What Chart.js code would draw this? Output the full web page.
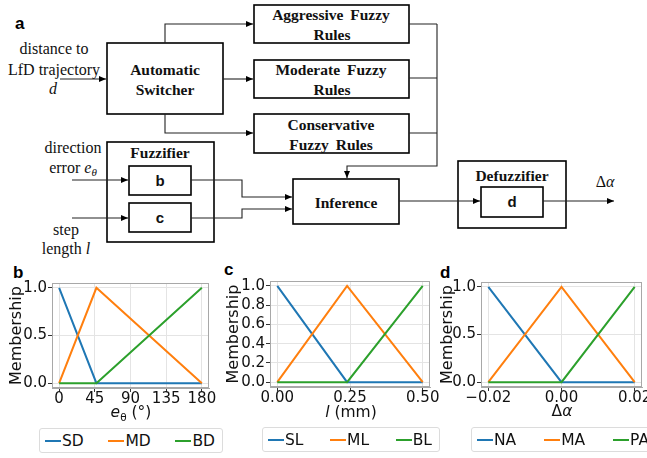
<!DOCTYPE html>
<html>
<head>
<meta charset="utf-8">
<script src="https://cdn.jsdelivr.net/npm/chart.js@4.4.1/dist/chart.umd.min.js"></script>
<style>
body { margin: 0; width: 647px; height: 458px; overflow: hidden; position: relative; background: #fff; font-family: 'DejaVu Sans', sans-serif; }
canvas { position: absolute; }
.panel { position: absolute; font: bold 17px 'Liberation Sans', Arial, sans-serif; line-height: 1; }
.xt { position: absolute; font-size: 15.5px; transform: translate(-50%, -50%); white-space: nowrap; color: #111; }
.legend { position: absolute; height: 25px; border: 1px solid #dcdcdc; border-radius: 3px; box-sizing: border-box;
          display: flex; justify-content: space-between; align-items: center; padding: 0 7px 0 5px; font-size: 15.5px; color: #111; }
.item { display: flex; align-items: center; white-space: nowrap; }
.item .ln { display: inline-block; width: 16px; height: 2px; margin-right: 1px; }
svg text { font-family: 'Liberation Serif', 'Times New Roman', serif; }
</style>
</head>
<body>

<!-- a: block diagram -->
<svg width="647" height="262" style="position:absolute;left:0;top:0">
  <defs>
    <marker id="ar" markerWidth="8" markerHeight="8" refX="7" refY="4" orient="auto" markerUnits="userSpaceOnUse">
      <path d="M0,1 L7,4 L0,7 z" fill="#000"/>
    </marker>
  </defs>
  <g fill="none" stroke="#000" stroke-width="1.6">
    <rect x="107" y="43" width="116" height="71"/>
    <rect x="254" y="5" width="155" height="38"/>
    <rect x="254" y="60" width="155" height="38"/>
    <rect x="254" y="114" width="155" height="39"/>
    <rect x="107" y="142" width="107" height="100"/>
    <rect x="129" y="166" width="62" height="29"/>
    <rect x="129" y="203" width="62" height="29"/>
    <rect x="293" y="179" width="106" height="45"/>
    <rect x="458" y="161" width="108" height="67"/>
    <rect x="481" y="187" width="62" height="30"/>
  </g>
  <g fill="none" stroke="#222" stroke-width="1.1">
    <path d="M60,79 H106" marker-end="url(#ar)"/>
    <path d="M165,43 V24 H253" marker-end="url(#ar)"/>
    <path d="M223,79 H253" marker-end="url(#ar)"/>
    <path d="M165,114 V133 H253" marker-end="url(#ar)"/>
    <path d="M409,24 H437 M409,78 H437 M409,133 H437"/>
    <path d="M437,24 V166 H347 V178" marker-end="url(#ar)"/>
    <path d="M72,180 H128" marker-end="url(#ar)"/>
    <path d="M72,218 H128" marker-end="url(#ar)"/>
    <path d="M191,180 H242 V197 H292" marker-end="url(#ar)"/>
    <path d="M191,218 H242 V209 H292" marker-end="url(#ar)"/>
    <path d="M399,201 H480" marker-end="url(#ar)"/>
    <path d="M543,201 H614" marker-end="url(#ar)"/>
  </g>
  <text x="15" y="29" style="font:bold 17px 'Liberation Sans',Arial,sans-serif">a</text>
  <g font-size="16" text-anchor="middle" fill="#111">
    <text x="54" y="54">distance to</text>
    <text x="54" y="75">LfD trajectory</text>
    <text x="53" y="94" font-style="italic">d</text>
    <text x="73" y="153">direction</text>
    <text x="73" y="173">error <tspan font-style="italic">e</tspan><tspan font-style="italic" font-size="11" dy="3">θ</tspan></text>
    <text x="66" y="235">step</text>
    <text x="66" y="254">length <tspan font-style="italic">l</tspan></text>
    <text x="605" y="187">Δ<tspan font-style="italic">α</tspan></text>
  </g>
  <g font-size="15.5" font-weight="bold" text-anchor="middle" fill="#111">
    <text x="165" y="75">Automatic</text>
    <text x="165" y="95">Switcher</text>
    <text x="331" y="20" word-spacing="3">Aggressive Fuzzy</text>
    <text x="332" y="40">Rules</text>
    <text x="331" y="75" word-spacing="3">Moderate Fuzzy</text>
    <text x="332" y="95">Rules</text>
    <text x="331" y="130">Conservative</text>
    <text x="331" y="150" word-spacing="3">Fuzzy Rules</text>
    <text x="160" y="158">Fuzzifier</text>
    <text x="346" y="208">Inference</text>
    <text x="512" y="181">Defuzzifier</text>
  </g>
  <g text-anchor="middle" fill="#111">
    <text x="160" y="186" style="font:bold 15px 'Liberation Sans',Arial,sans-serif">b</text>
    <text x="160" y="223" style="font:bold 15px 'Liberation Sans',Arial,sans-serif">c</text>
    <text x="512" y="207" style="font:bold 15px 'Liberation Sans',Arial,sans-serif">d</text>
  </g>
</svg>

<div class="panel" style="left:13px;top:264px">b</div>
<div class="panel" style="left:224px;top:261px">c</div>
<div class="panel" style="left:440px;top:264px">d</div>

<canvas id="chartB" width="222" height="140" style="left:0px;top:270px"></canvas>
<canvas id="chartC" width="222" height="140" style="left:222px;top:270px"></canvas>
<canvas id="chartD" width="222" height="140" style="left:440px;top:270px"></canvas>

<div class="xt" style="left:131px;top:413px"><i>e</i><sub style="font-size:10.5px">θ</sub> (°)</div>
<div class="xt" style="left:351px;top:412px"><i>l</i> (mm)</div>
<div class="xt" style="left:562px;top:411px">Δ<i>α</i></div>

<div class="legend" id="legB" style="left:39px;top:428px;width:184px"></div>
<div class="legend" id="legC" style="left:262px;top:427px;width:178px"></div>
<div class="legend" id="legD" style="left:471px;top:427px;width:186px"></div>

<script>
// membership function breakpoints
const thetaX = [0, 47, 180];
const lenX = [0, 0.24, 0.5];
const alphaX = [-0.02, 0, 0.02];
const lowY = [1, 0, 0];
const midY = [0, 1, 0];
const highY = [0, 0, 1];

const thetaNames = ['SD', 'MD', 'BD'];
const lenNames = ['SL', 'ML', 'BL'];
const alphaNames = ['NA', 'MA', 'PA'];

const thetaTicks = [0, 45, 90, 135, 180];
const lenTicks = [0, 0.25, 0.5];
const alphaTicks = [-0.02, 0, 0.02];
const memTicks = [0, 0.5, 1];
const memTicksFine = [0, 0.2, 0.4, 0.6, 0.8, 1];

const colors = ['#1f77b4', '#ff7f0e', '#2ca02c'];

Chart.defaults.font.family = "'DejaVu Sans', sans-serif";
Chart.defaults.font.size = 15;
Chart.defaults.color = '#111';

// box around the plot area, like matplotlib spines
const framePlugin = {
    id: 'frame',
    beforeDatasetsDraw(chart) {
        const { ctx, chartArea: a } = chart;
        ctx.save();
        ctx.strokeStyle = '#a8a8a8';
        ctx.lineWidth = 1;
        ctx.strokeRect(a.left + 0.5, a.top + 0.5, a.width - 1, a.height - 1);
        ctx.restore();
    }
};

function makeChart(id, xs, names, xTicks, yTicks, xMin, xMax, fmt, geo) {
    const series = [lowY, midY, highY];
    const datasets = series.map((ys, i) => ({
        label: names[i],
        data: xs.map((x, j) => ({ x: x, y: ys[j] })),
        borderColor: colors[i],
        borderWidth: 2,
        pointRadius: 0,
        tension: 0,
        order: 3 - i
    }));

    return new Chart(document.getElementById(id), {
        type: 'line',
        data: { datasets },
        options: {
            responsive: false,
            animation: false,
            layout: { padding: { top: geo.padTop, right: geo.padRight, left: 0, bottom: 0 } },
            plugins: { legend: { display: false }, tooltip: { enabled: false } },
            scales: {
                x: {
                    type: 'linear', min: xMin, max: xMax,
                    afterBuildTicks: s => { s.ticks = xTicks.map(v => ({ value: v })); },
                    afterFit: s => { s.height = geo.axisH; s.paddingLeft = 0; s.paddingRight = 0; },
                    ticks: { callback: fmt, autoSkip: false, maxRotation: 0, padding: 0, font: { size: 15, lineHeight: 1 } },
                    grid: { color: '#e4e4e4', tickColor: '#333', tickLength: 4 },
                    border: { color: '#a8a8a8' }
                },
                y: {
                    min: -0.05, max: 1.05,
                    afterBuildTicks: s => { s.ticks = yTicks.map(v => ({ value: v })); },
                    afterFit: s => { s.width = geo.axisW; s.paddingTop = 0; s.paddingBottom = 0; },
                    ticks: { callback: v => v.toFixed(1), padding: 1, font: { size: 15 } },
                    grid: { color: '#e4e4e4', tickColor: '#333', tickLength: 4 },
                    border: { color: '#a8a8a8' },
                    title: { display: true, text: 'Membership', padding: { top: geo.titlePad, bottom: 0 }, font: { size: 16, lineHeight: 1 } }
                }
            }
        },
        plugins: [framePlugin]
    });
}

function makeLegend(id, names) {
    const el = document.getElementById(id);
    names.forEach((n, i) => {
        const item = document.createElement('div');
        item.className = 'item';
        item.innerHTML = `<span class="ln" style="background:${colors[i]}"></span>${n}`;
        el.appendChild(item);
    });
}

const fmtMinus = v => (v < 0 ? '\u2212' : '') + Math.abs(v).toFixed(2);

makeChart('chartB', thetaX, thetaNames, thetaTicks, memTicks, -9, 189, v => String(v),
    { padTop: 13, padRight: 13, axisW: 52, axisH: 22, titlePad: 9 });
makeChart('chartC', lenX, lenNames, lenTicks, memTicksFine, -0.025, 0.525, v => v.toFixed(2),
    { padTop: 11, padRight: 14, axisW: 48, axisH: 23, titlePad: 4 });
makeChart('chartD', alphaX, alphaNames, alphaTicks, memTicks, -0.022, 0.022, fmtMinus,
    { padTop: 12, padRight: 20, axisW: 41, axisH: 23, titlePad: 0 });

makeLegend('legB', thetaNames);
makeLegend('legC', lenNames);
makeLegend('legD', alphaNames);
</script>
</body>
</html>
